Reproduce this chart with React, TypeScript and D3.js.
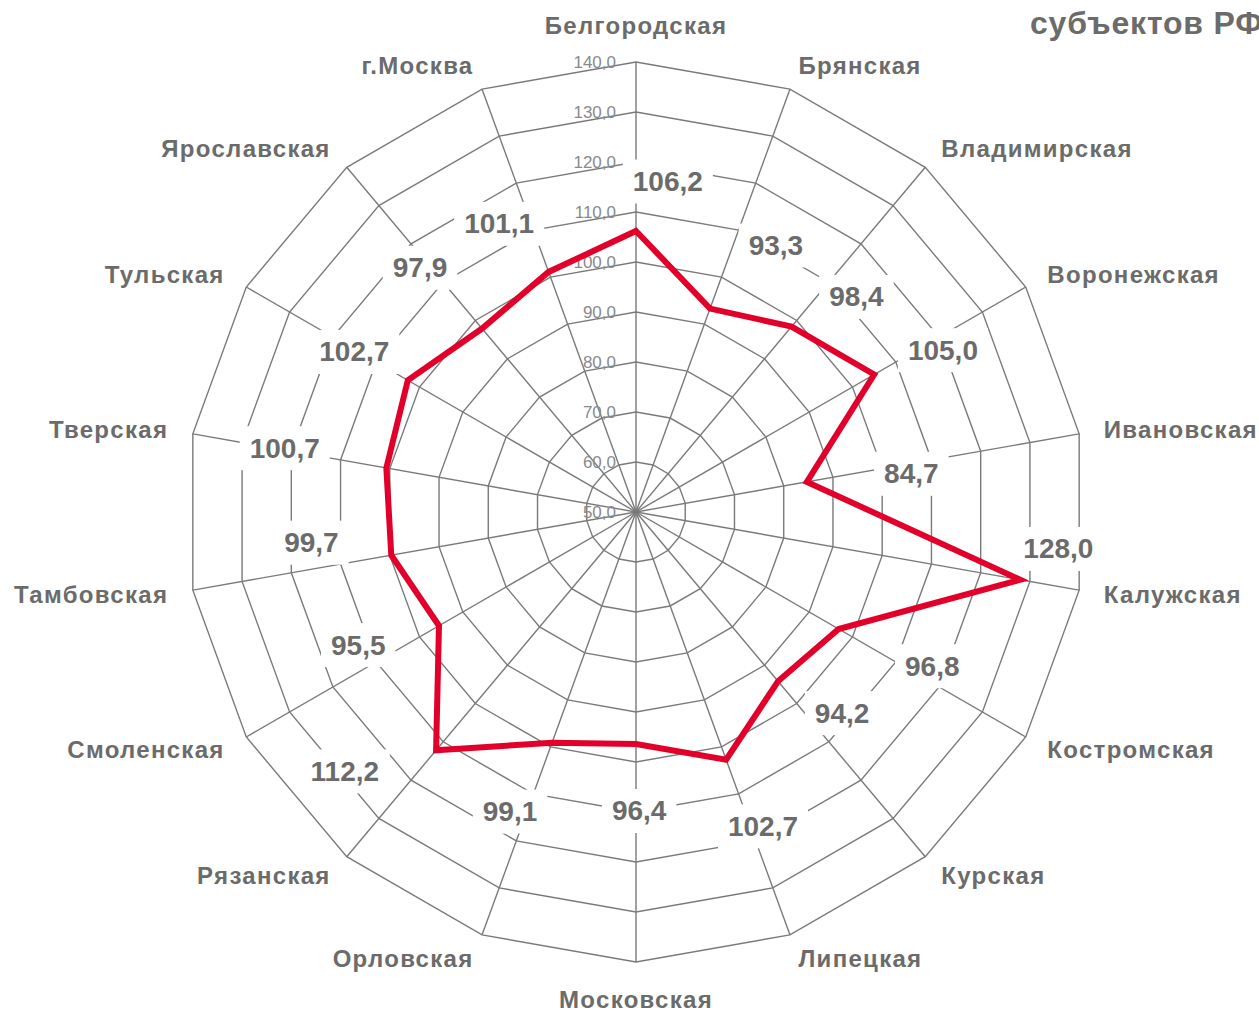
import React from 'react'
import * as d3 from 'd3'

const regions = [
  'Белгородская', 'Брянская', 'Владимирская', 'Воронежская', 'Ивановская',
  'Калужская', 'Костромская', 'Курская', 'Липецкая', 'Московская',
  'Орловская', 'Рязанская', 'Смоленская', 'Тамбовская', 'Тверская',
  'Тульская', 'Ярославская', 'г.Москва',
]
const values = [106.2, 93.3, 98.4, 105.0, 84.7, 128.0, 96.8, 94.2, 102.7, 96.4,
  99.1, 112.2, 95.5, 99.7, 100.7, 102.7, 97.9, 101.1]
const ticks = [50, 60, 70, 80, 90, 100, 110, 120, 130, 140]
const title = 'субъектов РФ'

// where the data labels sit: radius in px and angle shift in degrees from the spoke
const labelR = [332, 301, 308, 347, 278, 424, 334, 288, 339, 299, 325, 390, 308, 326, 357, 324, 326, 319]
const labelShift = [5.5, 7.7, 5.7, 2.2, 2.1, -5, -2.5, -5.7, -2, -0.6, 2.8, 8.3, 4.4, 4.6, 0.3, -0.4, -1.5, -5.4]

const W = 1259, H = 1011
const cx = 636, cy = 512
const font = '"Liberation Sans", Arial, sans-serif'
const gridColor = '#7a7a7a'
const textColor = '#6b6b6b'

const fmt = (v: number) => v.toFixed(1).replace('.', ',')
const rad = (deg: number) => deg * Math.PI / 180

export default function App() {
  const r = d3.scaleLinear().domain([50, 140]).range([0, 450])
  const n = regions.length
  const angle = d3.scaleLinear().domain([0, n]).range([0, 360])
  const pt = (deg: number, rr: number): [number, number] =>
    [cx + Math.sin(rad(deg)) * rr, cy - Math.cos(rad(deg)) * rr]

  const ring = (v: number) =>
    d3.range(n).map(i => pt(angle(i), r(v)).join(',')).join(' ')

  const line = d3.lineRadial<number>()
    .angle((_, i) => rad(angle(i)))
    .radius(d => r(d))
    .curve(d3.curveLinearClosed)

  return (
    <div style={{ position: 'absolute', left: 0, top: 0 }}>
      <svg width={W} height={H} style={{ display: 'block', background: '#fff' }} fontFamily={font}>
        {ticks.slice(1).map(t => (
          <polygon key={t} points={ring(t)} fill="none" stroke={gridColor} strokeWidth={1.4} />
        ))}
        {regions.map((_, i) => {
          const [x, y] = pt(angle(i), r(140))
          return <line key={i} x1={cx} y1={cy} x2={x} y2={y} stroke={gridColor} strokeWidth={1.4} />
        })}
        {ticks.map(t => (
          <text key={t} x={616} y={cy - r(t)} textAnchor="end" dominantBaseline="central"
            fontSize={17} fill="#8a8a8a">{fmt(t)}</text>
        ))}
        <path d={line(values) || ''} transform={`translate(${cx},${cy})`} fill="none"
          stroke="#e2002a" strokeWidth={6} strokeLinejoin="miter" />
        {values.map((v, i) => {
          const [x, y] = pt(angle(i) + labelShift[i], labelR[i])
          const s = fmt(v)
          const w = s.replace(',', '').length * 0.556 * 28 + 0.278 * 28
          return (
            <g key={i}>
              <rect x={x - w / 2 - 10} y={y - 22} width={w + 20} height={44} fill="#fff" />
              <text x={x} y={y} textAnchor="middle" dominantBaseline="central" fontSize={28}
                fontWeight="bold" fill={textColor}>{s}</text>
            </g>
          )
        })}
        {regions.map((name, i) => {
          const a = angle(i)
          const top = a === 0 || a === 180
          const [x, y] = pt(a, top ? 487 : 475)
          const anchor = top ? 'middle' : a < 180 ? 'start' : 'end'
          return (
            <text key={name} x={x} y={y} textAnchor={anchor} dominantBaseline="central"
              fontSize={24} letterSpacing={1.3} fontWeight="bold" fill={textColor}>{name}</text>
          )
        })}
        <text x={1030} y={23} dominantBaseline="central" fontSize={32} letterSpacing={0.8}
          fontWeight="bold" fill={textColor}>{title}</text>
      </svg>
    </div>
  )
}
